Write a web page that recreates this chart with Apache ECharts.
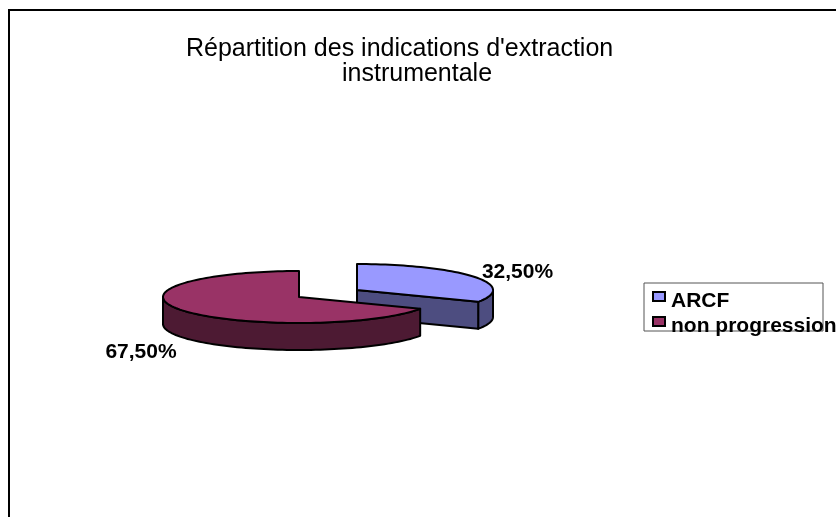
<!DOCTYPE html>
<html>
<head>
<meta charset="utf-8">
<style>
  html, body { margin: 0; padding: 0; background: #fff; }
  #chart { width: 836px; height: 517px; }
</style>
<script src="https://cdn.jsdelivr.net/npm/echarts@6/dist/echarts.min.js"></script>
</head>
<body>
<div id="chart"></div>
<script>
const categories = ["ARCF", "non progression"];
const values = [32.5, 67.5];
const titleLines = ["Répartition des indications d'extraction", "instrumentale"];

const topColors = ["#9999ff", "#993366"];
const sideColors = ["#4d4d80", "#4d1a33"];
// centre of each exploded slice and where its label sits
const centers = [[357, 290], [299, 297]];
const labelPos = [[517.5, 272], [141, 352]];

const RX = 136;
const RY = 26;
const DEPTH = 27;
const FONT = "'Liberation Sans', Arial, sans-serif";
const lineStyle = { stroke: "#000", lineWidth: 2, lineJoin: "round" };

const total = values.reduce((a, b) => a + b, 0);

// angle is in degrees, clockwise from 12 o'clock
const pointAt = (c, deg, dy = 0) => {
  const r = (deg * Math.PI) / 180;
  return [c[0] + RX * Math.sin(r), c[1] - RY * Math.cos(r) + dy];
};

const arcPoints = (c, from, to, dy = 0) => {
  const pts = [];
  for (let a = from; a < to; a += 2) pts.push(pointAt(c, a, dy));
  pts.push(pointAt(c, to, dy));
  return pts;
};

const poly = (points, fill) => ({
  type: "polygon",
  shape: { points },
  style: { fill, ...lineStyle },
});

const renderSlice = (index) => (params, api) => {
  const before = values.slice(0, index).reduce((a, b) => a + b, 0);
  const a0 = (before / total) * 360;
  const a1 = a0 + (api.value(0) / total) * 360;
  const c = centers[index];
  const down = [c[0], c[1] + DEPTH];
  const children = [];

  // outer wall, only the front half of the ellipse shows
  const wallFrom = Math.max(a0, 90);
  const wallTo = Math.min(a1, 270);
  if (wallFrom < wallTo) {
    const front = arcPoints(c, wallFrom, wallTo);
    const back = arcPoints(c, wallFrom, wallTo, DEPTH).reverse();
    children.push(poly(front.concat(back), sideColors[index]));
  }
  // cut faces
  if (Math.sin((a1 * Math.PI) / 180) > 0.01) {
    children.push(poly([c, pointAt(c, a1), pointAt(c, a1, DEPTH), down], sideColors[index]));
  }
  if (Math.sin((a0 * Math.PI) / 180) < -0.01) {
    children.push(poly([c, pointAt(c, a0), pointAt(c, a0, DEPTH), down], sideColors[index]));
  }
  // top
  children.push(poly([c].concat(arcPoints(c, a0, a1)), topColors[index]));
  // value label
  children.push({
    type: "text",
    z2: 10,
    style: {
      text: api.value(0).toFixed(2).replace(".", ",") + "%",
      x: labelPos[index][0],
      y: labelPos[index][1],
      align: "center",
      verticalAlign: "middle",
      fill: "#000",
      font: "bold 21px " + FONT,
    },
  });
  return { type: "group", children };
};

const chart = echarts.init(document.getElementById("chart"), null, { renderer: "canvas" });

chart.setOption({
  animation: false,
  backgroundColor: "#fff",
  title: [
    {
      text: titleLines[0],
      left: 186,
      top: 37,
      padding: 0,
      textStyle: { color: "#000", fontFamily: FONT, fontSize: 25, fontWeight: "normal" },
    },
    {
      text: titleLines[1],
      left: 342,
      top: 62,
      padding: 0,
      textStyle: { color: "#000", fontFamily: FONT, fontSize: 25, fontWeight: "normal" },
    },
  ],
  legend: {
    data: categories,
    orient: "vertical",
    left: 652,
    top: 290.5,
    padding: 0,
    itemGap: 4,
    itemWidth: 12,
    itemHeight: 18,
    // the stray moveTo keeps the swatch in the upper part so the text sits lower, as in the original
    icon: "path://M0,0H12V9H0ZM0,18L0,18",
    selectedMode: false,
    itemStyle: { borderColor: "#000", borderWidth: 2 },
    textStyle: { color: "#000", fontFamily: FONT, fontSize: 21, fontWeight: "bold", padding: [0, 0, 0, 1] },
  },
  graphic: [
    {
      type: "rect",
      z: -1,
      shape: { x: 9, y: 10, width: 900, height: 600 },
      style: { fill: "#fff", stroke: "#000", lineWidth: 2 },
    },
    {
      type: "rect",
      z: -1,
      shape: { x: 644, y: 283, width: 179, height: 48 },
      style: { fill: "#fff", stroke: "#555", lineWidth: 1 },
    },
  ],
  series: categories.map((name, i) => ({
    type: "custom",
    name,
    coordinateSystem: "none",
    itemStyle: { color: topColors[i] },
    renderItem: renderSlice(i),
    data: [values[i]],
    silent: true,
  })),
});
</script>
</body>
</html>
